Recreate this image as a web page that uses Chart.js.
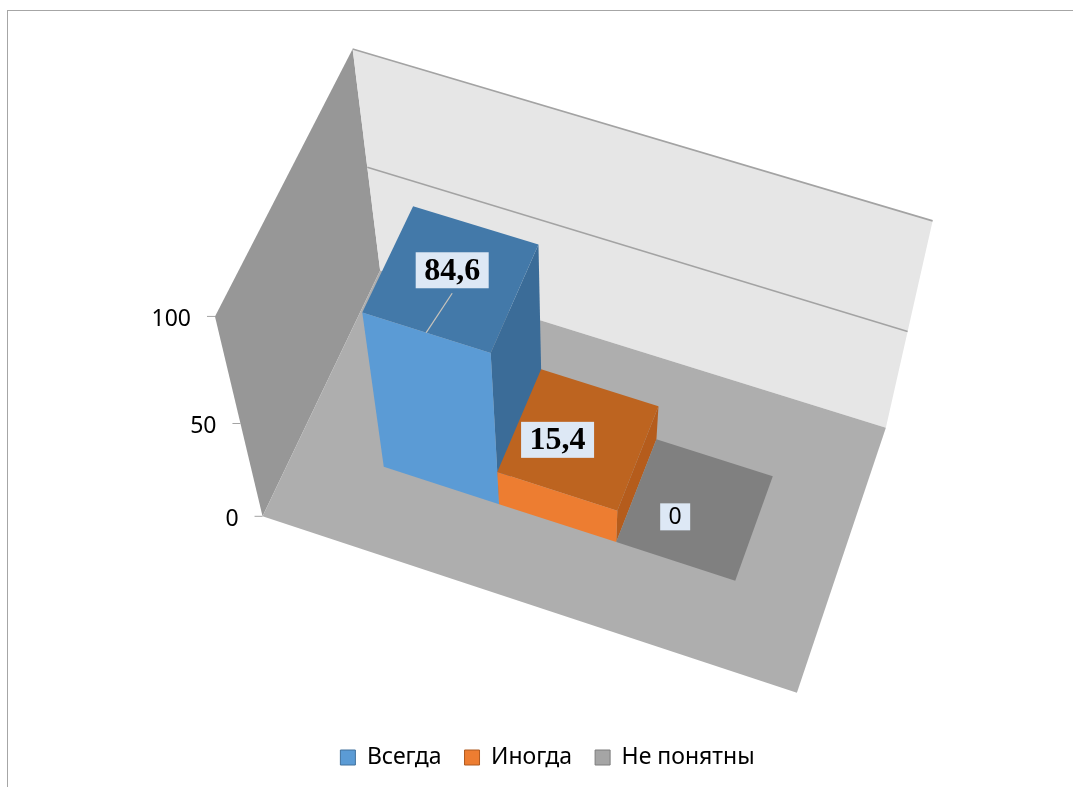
<!DOCTYPE html>
<html><head><meta charset="utf-8">
<style>html,body{margin:0;padding:0;background:#fff;overflow:hidden;width:1073px;height:787px}
#frame{position:absolute;left:7px;top:10px;width:2000px;height:2000px;border:1px solid #a6a6a6}
canvas{position:absolute;left:0;top:0}</style>
<script src="https://cdn.jsdelivr.net/npm/chart.js@4"></script></head>
<body><div id="frame"></div><canvas id="c" width="1073" height="787"></canvas>
<script>
const categories = ["Ряд"];
const seriesNames = ["Всегда", "Иногда", "Не понятны"];
const vsegda = [84.6];
const inogda = [15.4];
const nePonyatny = [0];
const yTicks = [0, 50, 100];

const camera = [[0,0,0,262,516],[1,0,0,797,693],[0,1,0,381,272],[1,1,0,886,427],[0,0,1,216,317],[0,1,1,352,49],[1,1,1,933,221],[0,0,.5,240,423],[0,1,.5,367,166],[1,1,.5,907,332]];
function fit(pts){
  const rows=[],rhs=[];
  pts.forEach(([u,w,v,x,y])=>{
    rows.push([1,u,w,v,0,0,0,0,-x*u,-x*w,-x*v]);rhs.push(x);
    rows.push([0,0,0,0,1,u,w,v,-y*u,-y*w,-y*v]);rhs.push(y);
  });
  const n=11,A=[];
  for(let i=0;i<n;i++){A.push(new Array(n+1).fill(0));
    for(let j=0;j<n;j++)rows.forEach(r=>A[i][j]+=r[i]*r[j]);
    rows.forEach((r,k)=>A[i][n]+=r[i]*rhs[k]);}
  for(let i=0;i<n;i++){let p=i;for(let k=i+1;k<n;k++)if(Math.abs(A[k][i])>Math.abs(A[p][i]))p=k;
    [A[i],A[p]]=[A[p],A[i]];
    for(let k=0;k<n;k++)if(k!==i){const f=A[k][i]/A[i][i];for(let j=i;j<=n;j++)A[k][j]-=f*A[i][j];}}
  return A.map((r,i)=>r[n]/r[i]);
}
const M=fit(camera);
function proj(u,w,v){const d=1+M[8]*u+M[9]*w+M[10]*v;
  return [(M[0]+M[1]*u+M[2]*w+M[3]*v)/d,(M[4]+M[5]*u+M[6]*w+M[7]*v)/d];}
function poly(ctx,pts,fill){ctx.beginPath();pts.forEach((p,i)=>i?ctx.lineTo(p[0],p[1]):ctx.moveTo(p[0],p[1]));ctx.closePath();ctx.fillStyle=fill;ctx.fill();}
const depth=[0.30,0.70];
const rise=v=>v>0?0.9*Math.pow(v,0.86):0;
const plugin3d={id:'box3d',
  beforeDatasetsDraw(chart){
    const ctx=chart.ctx,xs=chart.scales.x,ys=chart.scales.y;
    const vOf=val=>(ys.bottom-ys.getPixelForValue(val))/ys.height;
    ctx.save();
    poly(ctx,[proj(0,0,0),proj(0,0,1),proj(0,1,1),proj(0,1,0)],'#979797');
    poly(ctx,[proj(0,1,0),proj(1,1,0),proj(1,1,1),proj(0,1,1)],'#e6e6e6');
    poly(ctx,[proj(0,0,0),proj(1,0,0),proj(1,1,0),proj(0,1,0)],'#aeaeae');
    ys.ticks.forEach(t=>{const v=vOf(t.value);
      ctx.strokeStyle='#a3a3a3';ctx.lineWidth=1.6;
      if(v>0){const a=proj(0,1,v),b=proj(1,1,v);ctx.beginPath();ctx.moveTo(a[0],a[1]);ctx.lineTo(b[0],b[1]);ctx.stroke();}
      const p=proj(0,0,v);ctx.lineWidth=1;ctx.beginPath();ctx.moveTo(p[0]-8,p[1]);ctx.lineTo(p[0],p[1]);ctx.stroke();
      ctx.fillStyle='#000';ctx.font='23px "Noto Sans"';ctx.textAlign='right';ctx.textBaseline='middle';
      ctx.fillText(t.label,p[0]-24,p[1]+3);
    });
    chart.data.datasets.forEach((ds,i)=>{
      const el=chart.getDatasetMeta(i).data[0];
      const u0=(el.x-el.width/2-xs.left)/xs.width,u1=(el.x+el.width/2-xs.left)/xs.width;
      const h=rise(vOf(ds.data[0])),[w0,w1]=depth;
      if(h>0){
        poly(ctx,[proj(u1,w0,0),proj(u1,w1,0),proj(u1,w1,h),proj(u1,w0,h)],ds.sideColor);
        poly(ctx,[proj(u0,w0,h),proj(u1,w0,h),proj(u1,w1,h),proj(u0,w1,h)],ds.topColor);
        poly(ctx,[proj(u0,w0,0),proj(u1,w0,0),proj(u1,w0,h),proj(u0,w0,h)],ds.backgroundColor);
      } else {
        poly(ctx,[proj(u0,w0,0),proj(u1,w0,0),proj(u1,w1,0),proj(u0,w1,0)],ds.topColor);
      }
    });
    chart.data.datasets.forEach((ds,i)=>{
      const el=chart.getDatasetMeta(i).data[0];
      const um=(el.x-xs.left)/xs.width,h=rise(vOf(ds.data[0]));
      const c=proj(um,(depth[0]+depth[1])/2,h);
      const bx=c[0]+ds.labelShift[0],by=c[1]+ds.labelShift[1];
      if(ds.leader){const e=proj(um,depth[0],h);ctx.strokeStyle='#c9c4bc';ctx.lineWidth=1.2;ctx.beginPath();ctx.moveTo(bx,by+ds.labelBox[1]/2+5);ctx.lineTo(e[0],e[1]);ctx.stroke();}
      ctx.fillStyle='#dde8f5';ctx.fillRect(bx-ds.labelBox[0]/2,by-ds.labelBox[1]/2,ds.labelBox[0],ds.labelBox[1]);
      ctx.fillStyle='#000';ctx.font=ds.labelFont;ctx.textAlign='center';ctx.textBaseline='middle';
      ctx.fillText(String(ds.data[0]).replace('.',','),bx,by+1);
    });
    ctx.restore();
  },
  beforeDatasetDraw(){return false;}
};
new Chart(document.getElementById('c'),{
  type:'bar',
  plugins:[plugin3d],
  data:{labels:categories,datasets:[
    {label:seriesNames[0],data:vsegda,backgroundColor:'#5b9bd5',borderColor:'#41719c',borderWidth:1,topColor:'#4379a9',sideColor:'#3b6c98',labelShift:[1,-8],labelBox:[73,36],labelFont:'bold 32px "Liberation Serif"',leader:true},
    {label:seriesNames[1],data:inogda,backgroundColor:'#ed7d31',borderColor:'#ae5a21',borderWidth:1,topColor:'#bd6420',sideColor:'#b55c1c',labelShift:[-21,1],labelBox:[73,36],labelFont:'bold 32px "Liberation Serif"'},
    {label:seriesNames[2],data:nePonyatny,backgroundColor:'#a5a5a5',borderColor:'#7c7c7c',borderWidth:1,topColor:'#808080',sideColor:'#808080',labelShift:[-20,8],labelBox:[30,27],labelFont:'23px "Noto Sans"'}
  ]},
  options:{responsive:false,animation:false,devicePixelRatio:1,
    layout:{padding:{left:22,bottom:8}},
    datasets:{bar:{categoryPercentage:0.669,barPercentage:1}},
    scales:{x:{display:false},y:{display:false,min:0,max:100,afterBuildTicks(s){s.ticks=yTicks.map(v=>({value:v,label:String(v)}));}}},
    plugins:{tooltip:{enabled:false},title:{display:false},
      legend:{position:'bottom',labels:{boxWidth:15,boxHeight:15,padding:23,color:'#000',font:{family:'"Noto Sans"',size:23}}}}
  }
});
</script></body></html>
